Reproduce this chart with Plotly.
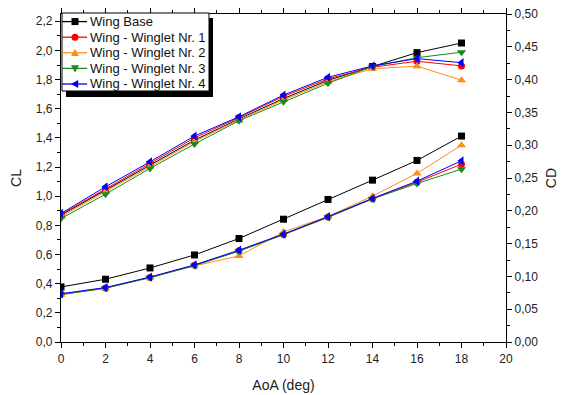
import plotly.graph_objects as go

aoa = [0, 2, 4, 6, 8, 10, 12, 14, 16, 18]
names = ["Wing Base", "Wing - Winglet Nr. 1", "Wing - Winglet Nr. 2",
         "Wing - Winglet Nr. 3", "Wing - Winglet Nr. 4"]

cl_base = [0.870, 1.040, 1.215, 1.385, 1.530, 1.670, 1.795, 1.890, 1.985, 2.051]
cl_w1 = [0.875, 1.050, 1.225, 1.400, 1.540, 1.685, 1.805, 1.885, 1.926, 1.894]
cl_w2 = [0.860, 1.030, 1.205, 1.375, 1.525, 1.660, 1.785, 1.875, 1.892, 1.796]
cl_w3 = [0.847, 1.014, 1.191, 1.358, 1.518, 1.648, 1.775, 1.890, 1.950, 1.988]
cl_w4 = [0.882, 1.065, 1.236, 1.413, 1.545, 1.694, 1.816, 1.894, 1.944, 1.916]

cd_base = [0.0839, 0.0957, 0.1129, 0.1327, 0.1578, 0.1872, 0.2173, 0.2467, 0.2768, 0.3139]
cd_w1 = [0.0730, 0.0825, 0.0985, 0.1170, 0.1390, 0.1640, 0.1905, 0.2185, 0.2437, 0.2711]
cd_w2 = [0.0720, 0.0820, 0.0985, 0.1160, 0.1312, 0.1678, 0.1915, 0.2223, 0.2570, 0.3000]
cd_w3 = [0.0725, 0.0820, 0.0980, 0.1165, 0.1385, 0.1635, 0.1900, 0.2180, 0.2417, 0.2635]
cd_w4 = [0.0735, 0.0830, 0.0990, 0.1175, 0.1400, 0.1645, 0.1910, 0.2190, 0.2452, 0.2762]

colors = ["#000000", "#ff0000", "#ff8c1a", "#1a8a1a", "#0000ff"]
symbols = ["square", "circle", "triangle-up", "triangle-down", "triangle-left"]
msizes = [7, 7, 8, 8, 8]

cl_all = [cl_base, cl_w1, cl_w2, cl_w3, cl_w4]
cd_all = [cd_base, cd_w1, cd_w2, cd_w3, cd_w4]

fig = go.Figure()
for i in range(5):
    fig.add_trace(go.Scatter(
        x=aoa, y=cl_all[i], name=names[i], mode="lines+markers",
        line=dict(color=colors[i], width=1),
        marker=dict(symbol=symbols[i], size=msizes[i], color=colors[i]),
        showlegend=False, yaxis="y"))
for i in range(5):
    fig.add_trace(go.Scatter(
        x=aoa, y=cd_all[i], name=names[i], mode="lines+markers",
        line=dict(color=colors[i], width=1),
        marker=dict(symbol=symbols[i], size=msizes[i], color=colors[i]),
        showlegend=False, yaxis="y2"))

W, H = 561, 395
L, R, T, B = 61, 55, 14, 53
pw, ph = W - L - R, H - T - B

def px(xp):
    return (xp - L) / pw

def py(yp):
    return (H - B - yp) / ph

FONT = "Liberation Sans, Arial, sans-serif"

# ---- custom legend (box with drop shadow), positions in window pixels ----
LEG_X0, LEG_Y0, LEG_W, LEG_H = 62, 13, 147, 78
ROW_H = 15.6
KEY_X0, KEY_X1, KEY_MX, TEXT_X = 62, 87, 75, 88

shapes = []
shapes.append(dict(type="rect", xref="paper", yref="paper", layer="above",
                   x0=px(LEG_X0 + 4), x1=px(LEG_X0 + LEG_W + 4),
                   y0=py(LEG_Y0 + LEG_H + 6), y1=py(LEG_Y0 + 5),
                   fillcolor="black", line=dict(width=0)))
shapes.append(dict(type="rect", xref="paper", yref="paper", layer="above",
                   x0=px(LEG_X0), x1=px(LEG_X0 + LEG_W),
                   y0=py(LEG_Y0 + LEG_H), y1=py(LEG_Y0),
                   fillcolor="white", line=dict(color="black", width=1)))

def marker_path(sym, cx, cy, s):
    h = s / 2.0
    if sym == "square":
        pts = [(cx - h, cy - h), (cx + h, cy - h), (cx + h, cy + h), (cx - h, cy + h)]
    elif sym == "triangle-up":
        pts = [(cx - h, cy + h * 0.8), (cx + h, cy + h * 0.8), (cx, cy - h)]
    elif sym == "triangle-down":
        pts = [(cx - h, cy - h * 0.8), (cx + h, cy - h * 0.8), (cx, cy + h)]
    else:  # triangle-left
        pts = [(cx + h * 0.8, cy - h), (cx + h * 0.8, cy + h), (cx - h, cy)]
    return "M " + " L ".join(f"{px(a):.5f},{py(b):.5f}" for a, b in pts) + " Z"

annotations = []
for i in range(5):
    cy = LEG_Y0 + ROW_H * (i + 0.55)
    shapes.append(dict(type="line", xref="paper", yref="paper", layer="above",
                       x0=px(KEY_X0), x1=px(KEY_X1), y0=py(cy), y1=py(cy),
                       line=dict(color=colors[i], width=1.3)))
    s = msizes[i]
    if symbols[i] == "circle":
        shapes.append(dict(type="circle", xref="paper", yref="paper", layer="above",
                           x0=px(KEY_MX - s / 2), x1=px(KEY_MX + s / 2),
                           y0=py(cy + s / 2), y1=py(cy - s / 2),
                           fillcolor=colors[i], line=dict(width=0)))
    else:
        shapes.append(dict(type="path", xref="paper", yref="paper", layer="above",
                           path=marker_path(symbols[i], KEY_MX, cy, s),
                           fillcolor=colors[i], line=dict(width=0)))
    annotations.append(dict(text=names[i], xref="paper", yref="paper",
                            x=px(TEXT_X), y=py(cy), xanchor="left", yanchor="middle",
                            showarrow=False,
                            font=dict(family=FONT, size=13, color="#111")))

tickfont = dict(family=FONT, size=12, color="#222")
titlefont = dict(family=FONT, size=14, color="#222")
axis_common = dict(showline=True, linecolor="black", linewidth=1.3,
                   ticks="outside", ticklen=5, tickwidth=1.2, tickcolor="black",
                   showgrid=False, zeroline=False, tickfont=tickfont,
                   automargin=False)

fig.update_layout(
    template="none",
    width=W, height=H,
    margin=dict(l=L, r=R, t=T, b=B, autoexpand=False),
    paper_bgcolor="white", plot_bgcolor="white",
    separators=",.",
    showlegend=False,
    font=dict(family=FONT, color="#222"),
    xaxis=dict(range=[0, 20], dtick=2, tick0=0, mirror="ticks",
               minor=dict(dtick=1, ticks="outside", ticklen=3, tickcolor="black"),
               title=dict(text="AoA (deg)", font=titlefont, standoff=15),
               **axis_common),
    yaxis=dict(range=[0, 2.25], dtick=0.2, tick0=0, tickformat=".1f",
               minor=dict(dtick=0.1, ticks="outside", ticklen=3, tickcolor="black"),
               title=dict(text="CL", font=titlefont, standoff=10),
               **axis_common),
    yaxis2=dict(range=[0, 0.5], dtick=0.05, tick0=0, tickformat=".2f",
                overlaying="y", side="right",
                minor=dict(dtick=0.025, ticks="outside", ticklen=3, tickcolor="black"),
                title=dict(text="CD", font=titlefont, standoff=8),
                **axis_common),
    shapes=shapes,
    annotations=annotations,
)

fig.write_html("out.html", config={"displayModeBar": False},
               post_script="document.body.style.margin='0px';document.body.style.padding='0px';")
